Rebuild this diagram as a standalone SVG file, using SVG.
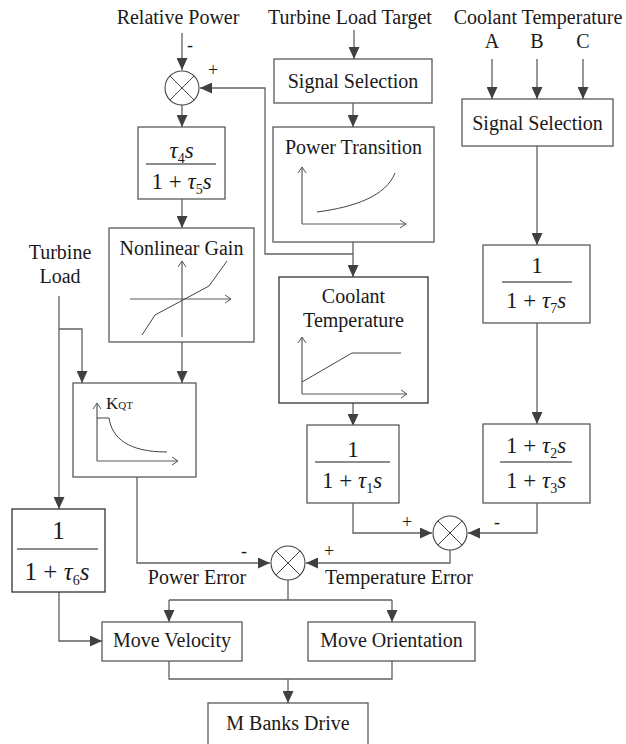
<svg xmlns="http://www.w3.org/2000/svg" width="626" height="744" viewBox="0 0 626 744">
  <defs>
    <marker id="arrow" markerUnits="userSpaceOnUse" markerWidth="12" markerHeight="11" refX="12" refY="5.5" orient="auto">
      <path d="M0,0 L12,5.5 L0,11 z" fill="#404040"/>
    </marker>
    <marker id="open" markerUnits="userSpaceOnUse" markerWidth="8" markerHeight="10" refX="7" refY="5" orient="auto">
      <path d="M1,1 L7,5 L1,9" fill="none" stroke="#555" stroke-width="1"/>
    </marker>
  </defs>
  <style>
    .box { fill: #fff; stroke: #5a5a5a; stroke-width: 1.3; }
    .dark { stroke: #333; }
    .wire { fill: none; stroke: #606060; stroke-width: 1.3; }
    .arr { marker-end: url(#arrow); }
    .axis { fill: none; stroke: #5a5a5a; stroke-width: 1.2; marker-end: url(#open); }
    .curve { fill: none; stroke: #444; stroke-width: 1; }
    .sum { fill: #fff; stroke: #444; stroke-width: 1.1; }
    .x { stroke: #444; stroke-width: 1; }
    .t { font-family: "Liberation Serif", "Times New Roman", serif; font-size: 20px; fill: #1a1a1a; text-anchor: middle; }
    .s { font-family: "Liberation Serif", "Times New Roman", serif; font-size: 18px; fill: #1a1a1a; text-anchor: middle; }
    .m { font-family: "Liberation Serif", "Times New Roman", serif; font-size: 23px; fill: #1a1a1a; text-anchor: middle; }
    .m6 { font-size: 25px; }
    .i { font-style: italic; }
    .sub { font-size: 14px; }
    .bar { stroke: #1a1a1a; stroke-width: 1.2; }
  </style>

  <!-- input labels -->
  <g id="inputs">
    <text class="t" x="178" y="24">Relative Power</text>
    <text class="t" x="350" y="24">Turbine Load Target</text>
    <text class="t" x="538" y="24">Coolant Temperature</text>
    <text class="t" x="492" y="48">A</text>
    <text class="t" x="537" y="48">B</text>
    <text class="t" x="583" y="48">C</text>
    <text class="t" x="60" y="259">Turbine</text>
    <text class="t" x="60" y="283">Load</text>
  </g>

  <!-- connectors -->
  <g id="connectors">
    <path class="wire arr" d="M182,33 V70"/>
    <path class="wire arr" d="M353,254 H265 V88 H200"/>
    <path class="wire arr" d="M182,105 V127"/>
    <path class="wire arr" d="M182,199 V228"/>
    <path class="wire arr" d="M182,342 V383"/>
    <path class="wire arr" d="M59,296 V509"/>
    <path class="wire arr" d="M59,329 H82 V383"/>
    <path class="wire arr" d="M137,477 V563 H270"/>
    <path class="wire arr" d="M354,30 V59"/>
    <path class="wire arr" d="M353,103 V127"/>
    <path class="wire arr" d="M353,242 V277"/>
    <path class="wire arr" d="M353,403 V426"/>
    <path class="wire arr" d="M492,59 V99"/>
    <path class="wire arr" d="M537,59 V99"/>
    <path class="wire arr" d="M583,59 V99"/>
    <path class="wire arr" d="M537,146 V245"/>
    <path class="wire arr" d="M537,323 V424"/>
    <path class="wire arr" d="M353,503 V533 H432"/>
    <path class="wire arr" d="M537,503 V533 H468"/>
    <path class="wire arr" d="M450,550 V563 H306"/>
    <path class="wire" d="M288,580 V600 M169,600 H392"/>
    <path class="wire arr" d="M169,600 V622"/>
    <path class="wire arr" d="M392,600 V622"/>
    <path class="wire arr" d="M59,592 V641 H102"/>
    <path class="wire" d="M169,661 V679 H392 V661"/>
    <path class="wire arr" d="M288,679 V703"/>
    <!-- sign labels -->
    <text class="s" x="190" y="51">-</text>
    <text class="s" x="213" y="76">+</text>
    <text class="s" x="407" y="528">+</text>
    <text class="s" x="497" y="528">-</text>
    <text class="s" x="244" y="557">-</text>
    <text class="s" x="329" y="557">+</text>
    <text class="t" x="197" y="584">Power Error</text>
    <text class="t" x="399" y="584">Temperature Error</text>
  </g>

  <!-- summing junctions -->
  <g id="sum-power-input">
    <circle class="sum" cx="182" cy="88" r="17"/>
    <path class="x" d="M170,76 L194,100 M194,76 L170,100"/>
  </g>
  <g id="sum-error">
    <circle class="sum" cx="288" cy="563" r="17"/>
    <path class="x" d="M276,551 L300,575 M300,551 L276,575"/>
  </g>
  <g id="sum-temperature">
    <circle class="sum" cx="450" cy="533" r="17"/>
    <path class="x" d="M438,521 L462,545 M462,521 L438,545"/>
  </g>

  <!-- lead/lag on relative power -->
  <g id="block-tau4">
    <rect class="box" x="138" y="127" width="87" height="72"/>
    <text class="m" x="181.5" y="158"><tspan class="i">τ</tspan><tspan class="sub" dy="5">4</tspan><tspan class="i" dy="-5">s</tspan></text>
    <line class="bar" x1="146" y1="164" x2="216" y2="164"/>
    <text class="m" x="181.5" y="189">1 + <tspan class="i">τ</tspan><tspan class="sub" dy="5">5</tspan><tspan class="i" dy="-5">s</tspan></text>
  </g>

  <g id="nonlinear-gain">
    <rect class="box" x="109" y="228" width="145" height="114"/>
    <text class="t" x="181.5" y="255">Nonlinear Gain</text>
    <path class="axis" d="M182,337 V261"/>
    <path class="axis" d="M130,299 H231"/>
    <polyline class="curve" points="142,335 155,315 209,286 227,261"/>
  </g>

  <g id="kqt">
    <rect class="box" x="73" y="383" width="123" height="94"/>
    <path class="axis" d="M97,461 V403"/>
    <path class="axis" d="M97,461 H178"/>
    <path class="curve" d="M97,418 H109 C112,438 128,452 167,452"/>
    <text font-family="Liberation Serif, serif" fill="#1a1a1a" x="106" y="409"><tspan font-size="17">K</tspan><tspan font-size="11">QT</tspan></text>
  </g>

  <g id="block-tau6">
    <rect class="box dark" x="12" y="509" width="93" height="83"/>
    <text class="m m6" x="58.5" y="539">1</text>
    <line class="bar" x1="17" y1="549" x2="98" y2="549"/>
    <text class="m m6" x="57" y="580">1 + <tspan class="i">τ</tspan><tspan class="sub" dy="5">6</tspan><tspan class="i" dy="-5">s</tspan></text>
  </g>

  <g id="signal-selection-load">
    <rect class="box" x="274" y="59" width="158" height="44"/>
    <text class="t" x="353" y="88">Signal Selection</text>
  </g>

  <g id="power-transition">
    <rect class="box" x="273" y="127" width="161" height="115"/>
    <text class="t" x="353.5" y="154">Power Transition</text>
    <path class="axis" d="M302,224 V167"/>
    <path class="axis" d="M302,224 H406"/>
    <path class="curve" d="M317,212 C355,207 386,196 395,173"/>
  </g>

  <g id="coolant-temperature">
    <rect class="box dark" x="279" y="277" width="149" height="126"/>
    <text class="t" x="353.5" y="303">Coolant</text>
    <text class="t" x="353.5" y="327">Temperature</text>
    <path class="axis" d="M302,394 V337"/>
    <path class="axis" d="M302,394 H407"/>
    <polyline class="curve" points="302,382 352,353 401,353"/>
  </g>

  <g id="block-tau1">
    <rect class="box" x="307" y="425" width="92" height="78"/>
    <text class="m" x="353" y="457">1</text>
    <line class="bar" x1="315" y1="462" x2="390" y2="462"/>
    <text class="m" x="352" y="488">1 + <tspan class="i">τ</tspan><tspan class="sub" dy="5">1</tspan><tspan class="i" dy="-5">s</tspan></text>
  </g>

  <g id="signal-selection-coolant">
    <rect class="box" x="462" y="99" width="151" height="47"/>
    <text class="t" x="537.5" y="130">Signal Selection</text>
  </g>

  <g id="block-tau7">
    <rect class="box" x="483" y="245" width="107" height="78"/>
    <text class="m" x="537" y="273">1</text>
    <line class="bar" x1="502" y1="282" x2="572" y2="282"/>
    <text class="m" x="536" y="308">1 + <tspan class="i">τ</tspan><tspan class="sub" dy="5">7</tspan><tspan class="i" dy="-5">s</tspan></text>
  </g>

  <g id="block-tau23">
    <rect class="box" x="483" y="424" width="107" height="79"/>
    <text class="m" x="536" y="453">1 + <tspan class="i">τ</tspan><tspan class="sub" dy="5">2</tspan><tspan class="i" dy="-5">s</tspan></text>
    <line class="bar" x1="500" y1="462" x2="572" y2="462"/>
    <text class="m" x="536" y="488">1 + <tspan class="i">τ</tspan><tspan class="sub" dy="5">3</tspan><tspan class="i" dy="-5">s</tspan></text>
  </g>

  <g id="move-velocity">
    <rect class="box" x="102" y="622" width="140" height="39"/>
    <text class="t" x="172" y="647">Move Velocity</text>
  </g>

  <g id="move-orientation">
    <rect class="box" x="308" y="622" width="167" height="39"/>
    <text class="t" x="391.5" y="647">Move Orientation</text>
  </g>

  <g id="m-banks-drive">
    <rect class="box" x="208" y="703" width="160" height="45"/>
    <text class="t" x="288" y="730">M Banks Drive</text>
  </g>
</svg>
